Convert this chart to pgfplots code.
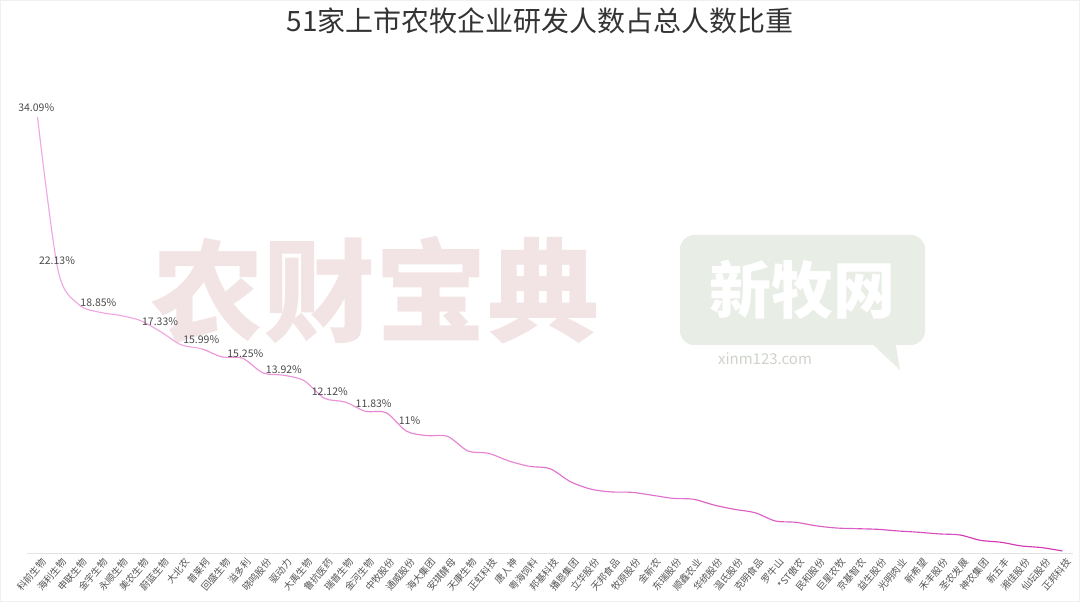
\documentclass[border=0pt]{standalone}
\usepackage{pgfplots}
\pgfplotsset{compat=1.18}
\usepackage{pgfplotstable}
\usepackage{fontspec}
\setmainfont{Noto Sans CJK SC}

\definecolor{titlegray}{HTML}{333333}
\definecolor{labgray}{HTML}{4A4A4A}
\definecolor{ticktxt}{HTML}{555555}
\definecolor{axisgray}{HTML}{E2E2E2}
\definecolor{lineA}{HTML}{F0A8E2}
\definecolor{lineB}{HTML}{D23AB6}
\definecolor{wmred}{HTML}{F2E4E4}
\definecolor{wmgreen}{HTML}{E8EDE5}
\definecolor{wmtext}{HTML}{CDD3CB}

% share of R&D staff in total staff, %
\pgfplotstableread{
i v
0 34.09
1 22.13
2 19.46
3 18.85
4 18.60
5 18.20
6 17.33
7 16.30
8 15.99
9 15.35
10 15.25
11 14.10
12 13.92
13 13.50
14 12.12
15 11.83
16 11.10
17 11.00
18 9.55
19 9.20
20 9.15
21 8.00
22 7.82
23 7.22
24 6.80
25 6.62
26 5.60
27 5.02
28 4.80
29 4.77
30 4.54
31 4.30
32 4.23
33 3.78
34 3.44
35 3.18
36 2.53
37 2.43
38 2.15
39 1.98
40 1.93
41 1.88
42 1.75
43 1.65
44 1.52
45 1.44
46 1.02
47 0.87
48 0.58
49 0.45
50 0.19
}\ratio

\pgfplotsset{ratioline/.style={smooth, line width=1.15pt, no markers}}

\begin{document}
\begin{tikzpicture}
\path[use as bounding box] (0pt,0pt) rectangle (1080pt,602pt);
\draw[gray!12, line width=1pt] (0.5pt,0.5pt) rectangle (1079.5pt,601.5pt);

% watermarks
\node[text=wmred, font=\bfseries\fontsize{112}{112}\selectfont, inner sep=0pt] at (375pt,312pt) {农财宝典};
\fill[wmgreen, rounded corners=14pt] (680pt,257pt) rectangle (925pt,367pt);
\fill[wmgreen] (868pt,262pt) -- (900pt,232pt) -- (895pt,262pt) -- cycle;
\node[text=white, font=\bfseries\fontsize{62}{62}\selectfont, inner sep=0pt] at (802pt,312pt) {新牧网};
\node[text=wmtext, font=\fontsize{15}{15}\selectfont, inner sep=0pt] at (765pt,243pt) {xinm123.com};

\node[text=titlegray, font=\fontsize{28}{28}\selectfont, inner sep=0pt] at (540pt,581pt) {51家上市农牧企业研发人数占总人数比重};

\begin{axis}[
    at={(27.25pt,48.6pt)}, anchor=south west,
    scale only axis,
    width=1045.5pt, height=460.8pt,
    xmin=-0.5, xmax=50.5,
    ymin=0, ymax=36,
    clip=false,
    axis x line*=bottom,
    hide y axis,
    axis line style={axisgray, line width=0.8pt},
    xtick={0,...,50},
    major tick length=0pt,
    xticklabels={科前生物,海利生物,申联生物,金宇生物,永顺生物,美农生物,蔚蓝生物,大北农,普莱柯,回盛生物,溢多利,晓鸣股份,驱动力,大禹生物,鲁抗医药,瑞普生物,金河生物,中牧股份,通威股份,海大集团,安琪酵母,天康生物,正虹科技,唐人神,粤海饲料,邦基科技,播恩集团,立华股份,天邦食品,牧原股份,金新农,东瑞股份,顺鑫农业,华统股份,温氏股份,克明食品,罗牛山,*ST傲农,民和股份,巨星农牧,京基智农,益生股份,光明肉业,新希望,禾丰股份,圣农发展,神农集团,新五丰,湘佳股份,仙坛股份,正邦科技},
    xticklabel style={rotate=50, anchor=east, text=ticktxt,
        font=\fontsize{9.6}{9.6}\selectfont, inner sep=1pt, yshift=-9pt},
]
\begin{scope}
\clip (axis cs:-0.5,-2) rectangle (axis cs:8,38);
\addplot[ratioline, color=lineA] table[x=i,y=v]{\ratio};
\end{scope}
\begin{scope}
\clip (axis cs:8,-2) rectangle (axis cs:16,38);
\addplot[ratioline, color=lineA!82!lineB] table[x=i,y=v]{\ratio};
\end{scope}
\begin{scope}
\clip (axis cs:16,-2) rectangle (axis cs:24,38);
\addplot[ratioline, color=lineA!66!lineB] table[x=i,y=v]{\ratio};
\end{scope}
\begin{scope}
\clip (axis cs:24,-2) rectangle (axis cs:32,38);
\addplot[ratioline, color=lineA!50!lineB] table[x=i,y=v]{\ratio};
\end{scope}
\begin{scope}
\clip (axis cs:32,-2) rectangle (axis cs:40,38);
\addplot[ratioline, color=lineA!34!lineB] table[x=i,y=v]{\ratio};
\end{scope}
\begin{scope}
\clip (axis cs:40,-2) rectangle (axis cs:45,38);
\addplot[ratioline, color=lineA!18!lineB] table[x=i,y=v]{\ratio};
\end{scope}
\begin{scope}
\clip (axis cs:45,-2) rectangle (axis cs:50.6,38);
\addplot[ratioline, color=lineB] table[x=i,y=v]{\ratio};
\end{scope}

\begin{scope}[every node/.style={text=labgray, font=\fontsize{10.5}{10.5}\selectfont, inner sep=0pt}]
\node at (axis cs:-0.06,34.85) {34.09\%};
\node at (axis cs:0.95,22.84) {22.13\%};
\node at (axis cs:2.97,19.62) {18.85\%};
\node at (axis cs:5.98,18.10) {17.33\%};
\node at (axis cs:7.99,16.73) {15.99\%};
\node at (axis cs:10.14,15.63) {15.25\%};
\node at (axis cs:12.02,14.38) {13.92\%};
\node at (axis cs:14.26,12.63) {12.12\%};
\node at (axis cs:16.40,11.73) {11.83\%};
\node at (axis cs:18.15,10.37) {11\%};
\end{scope}
\end{axis}
\end{tikzpicture}
\end{document}
